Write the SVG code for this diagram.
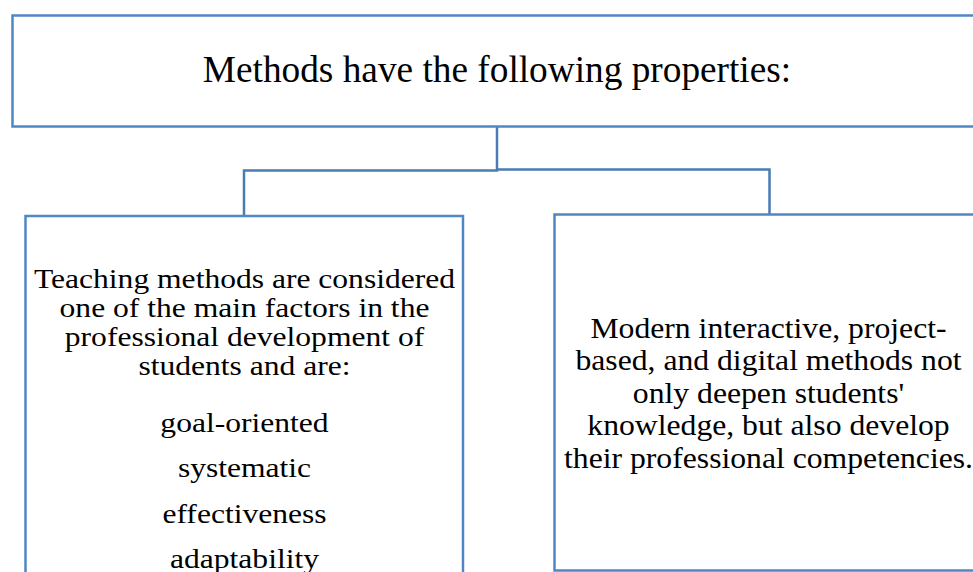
<svg xmlns="http://www.w3.org/2000/svg" width="973" height="572" viewBox="0 0 973 572">
  <style>
    .box { fill: #ffffff; stroke: #4f86c4; stroke-width: 2.5; }
    .conn { fill: none; stroke: #4a7cb2; stroke-width: 2.5; }
    .t { font-family: "Liberation Serif", "Times New Roman", serif; fill: #000000; text-anchor: middle; }
  </style>
  <rect x="0" y="0" width="973" height="572" fill="#ffffff"/>
  <g id="connectors">
    <path class="conn" d="M497,127 V170.5 H244 V216"/>
    <path class="conn" d="M497,169.5 H769.5 V214"/>
  </g>
  <g id="node-top">
    <rect class="box" x="12.5" y="15.5" width="990" height="111"/>
    <text class="t" x="497" y="82" font-size="37.3">Methods have the following properties:</text>
  </g>
  <g id="node-left">
    <rect class="box" x="25.5" y="216" width="437.5" height="400"/>
    <g transform="translate(244.5,0) scale(1.14,1)" font-size="27.7">
      <text class="t" x="0" y="288">Teaching methods are considered</text>
      <text class="t" x="0" y="317">one of the main factors in the</text>
      <text class="t" x="0" y="346">professional development of</text>
      <text class="t" x="0" y="375">students and are:</text>
      <text class="t" x="0" y="432">goal-oriented</text>
      <text class="t" x="0" y="477.5">systematic</text>
      <text class="t" x="0" y="523">effectiveness</text>
      <text class="t" x="0" y="568">adaptability</text>
    </g>
  </g>
  <g id="node-right">
    <rect class="box" x="554.5" y="214.5" width="440" height="356"/>
    <g transform="translate(768.5,0) scale(1.1,1)" font-size="28.8">
      <text class="t" x="0" y="338">Modern interactive, project-</text>
      <text class="t" x="0" y="370.5">based, and digital methods not</text>
      <text class="t" x="0" y="403">only deepen students'</text>
      <text class="t" x="0" y="435.5">knowledge, but also develop</text>
      <text class="t" x="0" y="468">their professional competencies.</text>
    </g>
  </g>
</svg>
